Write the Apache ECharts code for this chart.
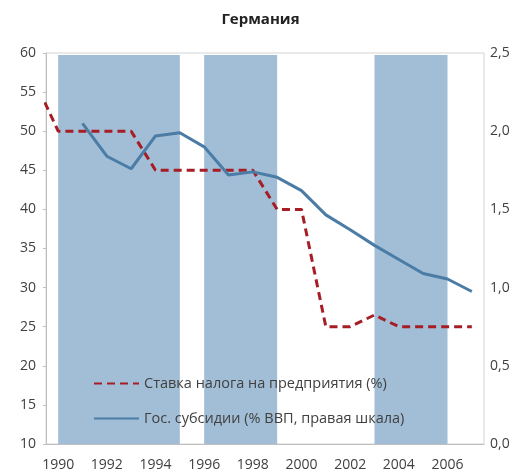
<!DOCTYPE html>
<html>
<head>
<meta charset="utf-8">
<script src="https://cdn.jsdelivr.net/npm/echarts@6/dist/echarts.min.js"></script>
<style>html,body{margin:0;padding:0;background:#fff;}#c{width:521px;height:474px;}</style>
</head>
<body>
<div id="c"></div>
<script>
const title = 'Германия';
const years = ['1990','1991','1992','1993','1994','1995','1996','1997','1998','1999','2000','2001','2002','2003','2004','2005','2006','2007'];
const taxName = 'Ставка налога на предприятия (%)';
const taxYears = [1989,1990,1991,1992,1993,1994,1995,1996,1997,1998,1999,2000,2001,2002,2003,2004,2005,2006,2007];
const taxValues = [56.7,50,50,50,50,45,45,45,45,45,40,40,25,25,26.5,25,25,25,25];
const subName = 'Гос. субсидии (% ВВП, правая шкала)';
const subYears = [1991,1992,1993,1994,1995,1996,1997,1998,1999,2000,2001,2002,2003,2004,2005,2006,2007];
const subValues = [2.05,1.84,1.76,1.97,1.99,1.90,1.72,1.74,1.705,1.62,1.465,1.37,1.27,1.18,1.09,1.055,0.975];
const bandStarts = [1990,1996,2003];
const bandEnds = [1995,1999,2006];
const leftTicks = {min:10, max:60, interval:5};
const rightTicks = {min:0, max:2.5, interval:0.5};

const font = '"Open Sans", "Noto Sans", sans-serif';
const chart = echarts.init(document.getElementById('c'));
chart.setOption({
  animation: false,
  title: {text: title, left: 'center', top: 7, textStyle: {fontFamily: font, fontSize: 15, fontWeight: 'bold', color: '#222'}},
  grid: {left: 46, right: 37, top: 53, bottom: 30, show: true, borderColor: '#d4d4d4', borderWidth: 1},
  legend: {
    orient: 'vertical', left: 88, top: 371, itemWidth: 45, itemHeight: 14, itemGap: 20,
    itemStyle: {opacity: 0},
    textStyle: {fontFamily: font, fontSize: 14.5, color: '#404040'},
    data: [taxName, subName]
  },
  xAxis: [
    {type: 'category', data: years, boundaryGap: true,
     axisLine: {lineStyle: {color: '#bfbfbf'}},
     axisTick: {interval: 1, inside: true, length: 5, lineStyle: {color: '#bfbfbf'}},
     axisLabel: {interval: 1, margin: 14, fontFamily: font, fontSize: 14, color: '#404040'}},
    {type: 'value', min: 1989.5, max: 2007.5, show: false}
  ],
  yAxis: [
    {type: 'value', min: leftTicks.min, max: leftTicks.max, interval: leftTicks.interval,
     splitLine: {show: false},
     axisLine: {show: true, lineStyle: {color: '#bfbfbf'}},
     axisTick: {show: true, length: 3, lineStyle: {color: '#bfbfbf'}},
     axisLabel: {margin: 10, fontFamily: font, fontSize: 14, color: '#404040'}},
    {type: 'value', min: rightTicks.min, max: rightTicks.max, interval: rightTicks.interval,
     splitLine: {show: false},
     axisLine: {show: false}, axisTick: {show: false},
     axisLabel: {margin: 6, fontFamily: font, fontSize: 14, color: '#404040',
       formatter: v => v.toFixed(1).replace('.', ',')}}
  ],
  series: [
    {name: taxName, type: 'line', xAxisIndex: 1, yAxisIndex: 0, clip: true,
     symbol: 'none', z: 3,
     data: taxYears.map((y, i) => [y, taxValues[i]]),
     lineStyle: {color: '#a61d25', width: 3, type: [8, 5]},
     itemStyle: {color: '#a61d25'},
     markArea: {silent: true, z: 1,
       itemStyle: {color: '#a2bed6'},
       data: bandStarts.map((s, i) => [{xAxis: s, yAxis: 10}, {xAxis: bandEnds[i], yAxis: 59.75}])}
    },
    {name: subName, type: 'line', xAxisIndex: 1, yAxisIndex: 1, clip: true,
     symbol: 'none', z: 4,
     data: subYears.map((y, i) => [y, subValues[i]]),
     lineStyle: {color: '#4a7ca6', width: 3},
     itemStyle: {color: '#4a7ca6'}
    }
  ]
});
</script>
</body>
</html>
